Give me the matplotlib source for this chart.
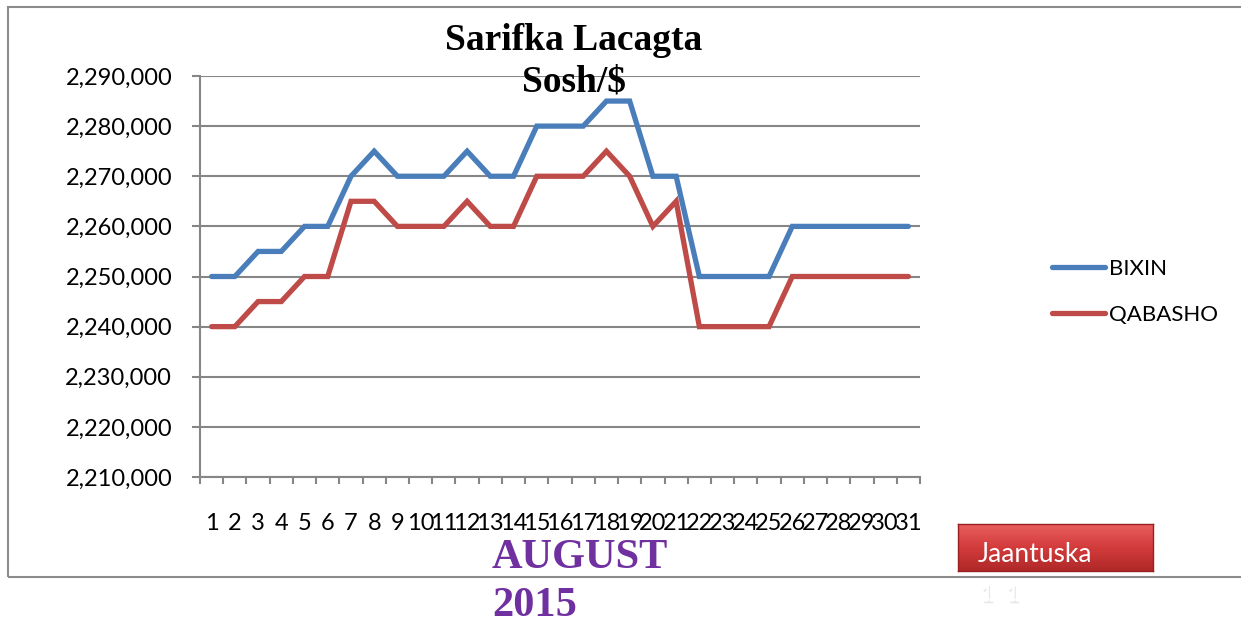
import numpy as np
import matplotlib
matplotlib.use("Agg")
import matplotlib.pyplot as plt
import matplotlib.patheffects as pe
from matplotlib.patches import Rectangle
from matplotlib.colors import LinearSegmentedColormap
from matplotlib.ticker import FuncFormatter, FixedLocator

# data (Somali shilling per US dollar, August 2015)
days = list(range(1, 32))
bixin = [2250000, 2250000, 2255000, 2255000, 2260000, 2260000, 2270000, 2275000,
         2270000, 2270000, 2270000, 2275000, 2270000, 2270000, 2280000, 2280000,
         2280000, 2285000, 2285000, 2270000, 2270000, 2250000, 2250000, 2250000,
         2250000, 2260000, 2260000, 2260000, 2260000, 2260000, 2260000]
qabasho = [2240000, 2240000, 2245000, 2245000, 2250000, 2250000, 2265000, 2265000,
           2260000, 2260000, 2260000, 2265000, 2260000, 2260000, 2270000, 2270000,
           2270000, 2275000, 2270000, 2260000, 2265000, 2240000, 2240000, 2240000,
           2240000, 2250000, 2250000, 2250000, 2250000, 2250000, 2250000]
y_ticks = list(range(2210000, 2290001, 10000))

W, H = 1241, 624
fig = plt.figure(figsize=(W / 100, H / 100), dpi=100)
fig.patch.set_facecolor("white")

tick_font = "Lato"
serif = "Liberation Serif"
grey = "#868686"

# outer chart frame
fig.add_artist(Rectangle((8 / W, 1 - 577 / H), 1.1, (577 - 7) / H,
                         transform=fig.transFigure, fill=False,
                         edgecolor="#8c8c8c", linewidth=1.5))

ax = fig.add_axes([200 / W, 1 - 477 / H, 720 / W, (477 - 76) / H])
ax.plot(days, bixin, color="#4A7EBB", lw=3.8, solid_capstyle="round",
        solid_joinstyle="miter", label="BIXIN", zorder=3)
ax.plot(days, qabasho, color="#BE4B48", lw=3.8, solid_capstyle="round",
        solid_joinstyle="miter", label="QABASHO", zorder=3)

ax.set_xlim(0.5, 31.5)
ax.set_ylim(2210000, 2290000)
ax.set_yticks(y_ticks)
ax.yaxis.set_major_formatter(FuncFormatter(lambda v, p: f"{int(v):,}"))
ax.set_xticks(days)
ax.set_xticklabels([str(d) for d in days])
ax.xaxis.set_minor_locator(FixedLocator(np.arange(0.5, 32, 1)))

ax.grid(axis="y", color=grey, lw=1.5, zorder=1)
for s in ["top", "right"]:
    ax.spines[s].set_visible(False)
for s in ["left", "bottom"]:
    ax.spines[s].set_color(grey)
    ax.spines[s].set_linewidth(1.5)

ax.tick_params(axis="y", direction="out", length=6, width=1.5, color=grey,
               pad=14, labelsize=17)
ax.tick_params(axis="x", which="major", length=0, pad=26, labelsize=17)
ax.tick_params(axis="x", which="minor", direction="out", length=5, width=1.5,
               color=grey)
for lab in ax.get_xticklabels() + ax.get_yticklabels():
    lab.set_fontfamily(tick_font)

# title
fig.text(574 / W, 1 - 40 / H, "Sarifka Lacagta", ha="center", va="center",
         fontsize=27, fontweight="bold", family=serif)
fig.text(574 / W, 1 - 82 / H, "Sosh/$", ha="center", va="center",
         fontsize=27, fontweight="bold", family=serif)

# month label
fig.text(492 / W, 1 - 558 / H, "AUGUST", ha="left", va="center",
         fontsize=30.5, fontweight="bold", family=serif, color="#7030A0")
fig.text(492 / W, 1 - 606 / H, "2015", ha="left", va="center",
         fontsize=30.5, fontweight="bold", family=serif, color="#7030A0")

# legend
leg = fig.legend(loc="center left", bbox_to_anchor=(1032 / W, 1 - 292 / H),
                 frameon=False, prop={"family": tick_font, "size": 16},
                 handlelength=2.4, handletextpad=0.15, labelspacing=1.15)

# red button
bx = fig.add_axes([958 / W, 1 - 571 / H, 195 / W, 47 / H])
grad = np.linspace(0, 1, 64)[:, None]
cmap = LinearSegmentedColormap.from_list("btn", ["#E86060", "#D43C3C", "#B02828"])
bx.imshow(grad, aspect="auto", cmap=cmap, extent=[0, 1, 0, 1])
bx.set_xticks([])
bx.set_yticks([])
for s in bx.spines.values():
    s.set_color("#9a2020")
    s.set_linewidth(1)
bx.text(0.1, 0.36, "Jaantuska", color="white", fontsize=19, family=tick_font,
        ha="left", va="center", transform=bx.transAxes)
note = fig.text(980 / W, 1 - 594 / H, "1  1", color="white", fontsize=17,
                family=tick_font, ha="left", va="center")
note.set_path_effects([pe.withSimplePatchShadow(offset=(1, -2),
                                                shadow_rgbFace="#b0b0b0"),
                       pe.Normal()])

fig.savefig("out.png", dpi=100)
